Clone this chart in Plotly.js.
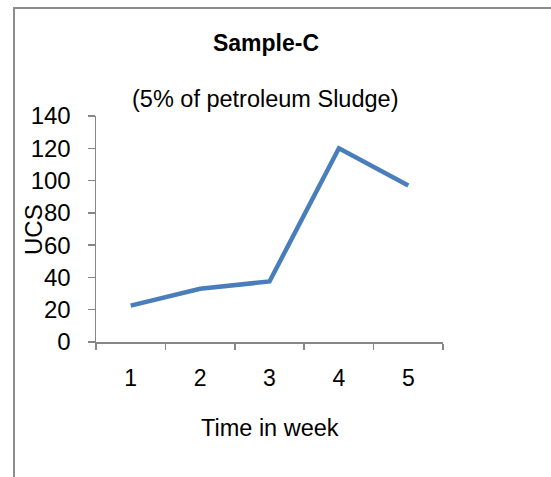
<!DOCTYPE html>
<html>
<head>
<meta charset="utf-8">
<script src="https://cdn.plot.ly/plotly-3.0.1.min.js"></script>
<style>
html,body{margin:0;padding:0;background:#fff;}
#chart{width:551px;height:477px;}
</style>
</head>
<body>
<div id="chart"></div>
<script>
var weeks = ['1', '2', '3', '4', '5'];
var ucs = [22.5, 33, 37.5, 120, 97];
var yTicks = [0, 20, 40, 60, 80, 100, 120, 140];

var titleText = '<b>Sample-C</b>';
var subtitleText = '(5% of petroleum Sludge)';
var xTitle = 'Time in week';
var yTitle = 'UCS';

var W = 551, H = 477;
var L = 96, R = 443, T = 116, B = 342;
function px(x){ return (x - L) / (R - L); }
function py(y){ return (B - y) / (B - T); }

var font = 'Arial, "Liberation Sans", sans-serif';
var axisColor = '#868686';

var trace = {
  x: weeks,
  y: ucs,
  type: 'scatter',
  mode: 'lines',
  line: {color: '#4a7ebb', width: 4.5},
  hoverinfo: 'x+y'
};

var layout = {
  width: W, height: H,
  margin: {l: L, r: W - R, t: T, b: H - B, pad: 0},
  paper_bgcolor: '#ffffff',
  plot_bgcolor: '#ffffff',
  showlegend: false,
  font: {family: font, color: '#000000', size: 23},
  title: {
    text: titleText,
    font: {family: font, size: 23, color: '#000'},
    x: 270 / W, xanchor: 'center',
    y: 1 - 43 / H, yanchor: 'middle',
    xref: 'paper', yref: 'container'
  },
  xaxis: {
    type: 'category',
    range: [-0.5, 4.5],
    showgrid: false,
    zeroline: false,
    showline: true,
    linecolor: axisColor,
    linewidth: 1.5,
    ticks: 'outside',
    tickson: 'boundaries',
    ticklen: 6,
    tickwidth: 1.5,
    tickcolor: axisColor,
    tickfont: {family: font, size: 23, color: '#000'},
    ticklabelstandoff: 15,
    fixedrange: true
  },
  yaxis: {
    range: [0, 140],
    tickmode: 'array',
    tickvals: yTicks,
    ticktext: yTicks.map(String),
    showgrid: false,
    zeroline: false,
    showline: true,
    linecolor: axisColor,
    linewidth: 1.5,
    ticks: 'outside',
    ticklen: 7,
    tickwidth: 1.5,
    tickcolor: axisColor,
    tickfont: {family: font, size: 24, color: '#000'},
    ticklabelstandoff: 12,
    fixedrange: true
  },
  annotations: [
    {
      text: subtitleText, showarrow: false,
      xref: 'paper', yref: 'paper',
      x: px(265), y: py(99), xanchor: 'center', yanchor: 'middle',
      font: {family: font, size: 23.5, color: '#000'}
    },
    {
      text: xTitle, showarrow: false,
      xref: 'paper', yref: 'paper',
      x: px(270), y: py(428), xanchor: 'center', yanchor: 'middle',
      font: {family: font, size: 23.5, color: '#000'}
    },
    {
      text: yTitle, showarrow: false, textangle: -90,
      xref: 'paper', yref: 'paper',
      x: px(33), y: py(230), xanchor: 'center', yanchor: 'middle',
      font: {family: font, size: 24, color: '#000'}
    }
  ],
  shapes: [
    {type: 'line', xref: 'paper', yref: 'paper',
     x0: px(14), x1: px(14), y0: py(8), y1: py(480),
     line: {color: '#8c8c8c', width: 2}},
    {type: 'line', xref: 'paper', yref: 'paper',
     x0: px(13), x1: px(555), y0: py(8), y1: py(8),
     line: {color: '#8c8c8c', width: 2}}
  ]
};

Plotly.newPlot('chart', [trace], layout, {displayModeBar: false, staticPlot: true});
</script>
</body>
</html>
